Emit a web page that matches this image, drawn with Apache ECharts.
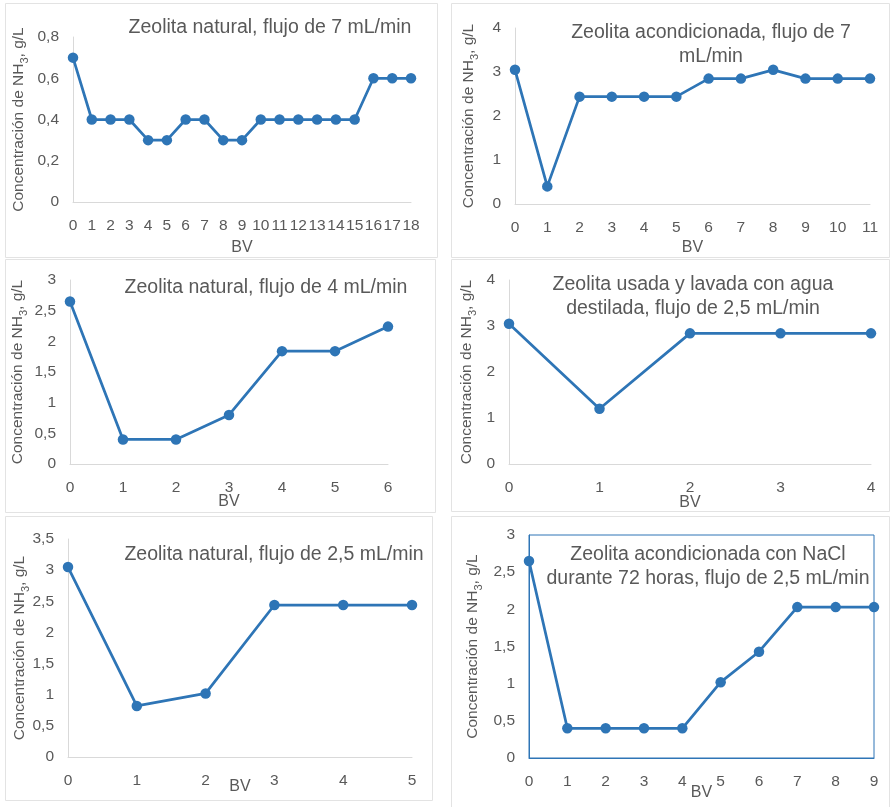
<!DOCTYPE html>
<html>
<head>
<meta charset="utf-8">
<script src="https://cdn.jsdelivr.net/npm/echarts@6/dist/echarts.min.js"></script>
<style>
html,body{margin:0;padding:0;background:#fff;}
#c{width:892px;height:807px;}
</style>
</head>
<body>
<div id="c"></div>
<script>
// ---- data ----
const titles = [
  'Zeolita natural, flujo de 7 mL/min',
  'Zeolita acondicionada, flujo de 7\nmL/min',
  'Zeolita natural, flujo de 4 mL/min',
  'Zeolita usada y lavada con agua\ndestilada, flujo de 2,5 mL/min',
  'Zeolita natural, flujo de 2,5 mL/min',
  'Zeolita acondicionada con NaCl\ndurante 72 horas, flujo de 2,5 mL/min'
];
const bv1 = ['0','1','2','3','4','5','6','7','8','9','10','11','12','13','14','15','16','17','18'];
const conc1 = [0.7,0.4,0.4,0.4,0.3,0.3,0.4,0.4,0.3,0.3,0.4,0.4,0.4,0.4,0.4,0.4,0.6,0.6,0.6];
const bv2 = ['0','1','2','3','4','5','6','7','8','9','10','11'];
const conc2 = [3.05,0.4,2.44,2.44,2.44,2.44,2.85,2.85,3.05,2.85,2.85,2.85];
const bv3 = ['0','1','2','3','4','5','6'];
const conc3 = [2.65,0.4,0.4,0.8,1.84,1.84,2.24];
const bv4 = ['0','1','2','3','4'];
const conc4 = [3.05,1.2,2.84,2.84,2.84];
const bv5 = ['0','1','2','3','4','5'];
const conc5 = [3.05,0.82,1.02,2.44,2.44,2.44];
const bv6 = ['0','1','2','3','4','5','6','7','8','9'];
const conc6 = [2.65,0.4,0.4,0.4,0.4,1.02,1.43,2.03,2.03,2.03];
const yMax = [0.8,4,3,4,3.5,3];
const yStep = [0.2,1,0.5,1,0.5,0.5];

// ---- layout ----
const cats = [bv1,bv2,bv3,bv4,bv5,bv6];
const vals = [conc1,conc2,conc3,conc4,conc5,conc6];
const grids = [
  {left:73, top:37, width:338, height:165},
  {left:515, top:28, width:355, height:176},
  {left:70, top:280, width:318, height:184},
  {left:509, top:280, width:362, height:184},
  {left:68, top:539, width:344, height:218},
  {left:529, top:535, width:345, height:223}
];
const xNameGap = [38,36,30,31,22,27];
const yNameGap = [46,38,44,34,40,48];
const titlePos = [
  {x:265, y:11}, {x:706, y:16}, {x:261, y:271}, {x:688, y:268}, {x:269, y:538}, {x:703, y:538}
];
const panels = [
  [5,3,432,254],[451,3,438,254],[5,259,430,253],[451,259,438,252],[5,516,427,284],[451,516,438,300]
];
const TXT = '#595959';
const BLUE = '#2e75b6';
const FONT = '"Liberation Sans", Arial, sans-serif';

const option = {
  backgroundColor:'#fff',
  animation:false,
  textStyle:{fontFamily:FONT},
  title: titles.map((t,i)=>({
    text:t, left:titlePos[i].x, top:titlePos[i].y, textAlign:'center',
    textStyle:{fontSize:19.5, fontWeight:'normal', color:TXT, lineHeight:24, fontFamily:FONT}
  })),
  graphic: panels.map(p=>({
    type:'rect', shape:{x:p[0]+0.5,y:p[1]+0.5,width:p[2],height:p[3]},
    style:{fill:'none', stroke:'#e3e3e3', lineWidth:1}, z:-1
  })),
  grid: grids.map((g,i)=>Object.assign({
    show: i===5, borderColor: BLUE, borderWidth: 1, backgroundColor:'transparent'
  }, g)),
  xAxis: cats.map((c,i)=>({
    type:'category', gridIndex:i, data:c, boundaryGap:false,
    name:'BV', nameLocation:'middle', nameGap:xNameGap[i], nameMoveOverlap:false,
    nameTextStyle:{fontSize:16, color:TXT, fontFamily:FONT},
    axisLine:{show:true, lineStyle:{color: i===5 ? BLUE : '#d9d9d9', width:1}},
    axisTick:{show:false},
    axisLabel:{interval:0, hideOverlap:false, color:TXT, fontSize:15.5, margin:16, fontFamily:FONT},
    splitLine:{show:false}
  })),
  yAxis: yMax.map((m,i)=>({
    type:'value', gridIndex:i, min:0, max:m, interval:yStep[i],
    name:'{a|Concentración de NH}{s|3}{a|, g/L}',
    nameLocation:'middle', nameGap:yNameGap[i], nameRotate:90, nameMoveOverlap:false,
    nameTextStyle:{
      color:TXT, fontFamily:FONT,
      rich:{
        a:{fontSize:15.5, color:TXT, fontFamily:FONT, lineHeight:19, verticalAlign:'bottom'},
        s:{fontSize:11, color:TXT, fontFamily:FONT, lineHeight:19, verticalAlign:'bottom', padding:[0,0,-3,0]}
      }
    },
    axisLine:{show:true, lineStyle:{color: i===5 ? BLUE : '#d9d9d9', width:1}},
    axisTick:{show:false},
    axisLabel:{color:TXT, fontSize:15.5, margin:14, fontFamily:FONT,
      formatter:v=>String(Math.round(v*10)/10).replace('.',',')},
    splitLine:{show:false}
  })),
  series: vals.map((v,i)=>({
    type:'line', xAxisIndex:i, yAxisIndex:i, data:v,
    symbol:'circle', symbolSize:10.5,
    lineStyle:{color:BLUE, width:2.75},
    itemStyle:{color:BLUE}
  }))
};
const chart = echarts.init(document.getElementById('c'), null, {renderer:'canvas'});
chart.setOption(option);
</script>
</body>
</html>
